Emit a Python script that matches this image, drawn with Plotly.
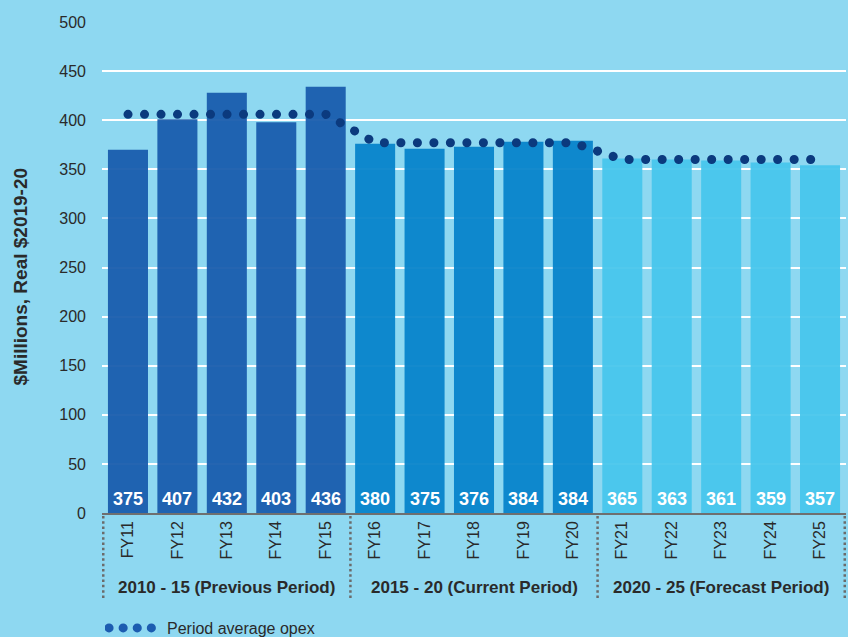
import plotly.graph_objects as go

# ---- data ----
years = ["FY11", "FY12", "FY13", "FY14", "FY15",
         "FY16", "FY17", "FY18", "FY19", "FY20",
         "FY21", "FY22", "FY23", "FY24", "FY25"]
bar_heights = [370, 401, 428, 398, 434,
               376, 371, 373, 378, 379,
               361, 360, 359, 357, 354]
bar_labels = [375, 407, 432, 403, 436,
              380, 375, 376, 384, 384,
              365, 363, 361, 359, 357]
period_avg = [406, 406, 406, 406, 406,
              377, 377, 377, 377, 377,
              360, 360, 360, 360, 360]
period_names = ["2010 - 15 (Previous Period)",
                "2015 - 20 (Current Period)",
                "2020 - 25 (Forecast Period)"]
period_sizes = [5, 5, 5]
period_colors = ["#195DAD", "#0784CA", "#48C6EC"]
y_ticks = [0, 50, 100, 150, 200, 250, 300, 350, 400, 450, 500]

BG = "#8ED8F1"
FONT = "Liberation Sans, Arial, sans-serif"
TXT = "#2a2a2a"

bar_colors = []
for c, n in zip(period_colors, period_sizes):
    bar_colors += [c] * n

fig = go.Figure()
fig.add_trace(go.Bar(
    x=years, y=bar_heights,
    marker=dict(color=bar_colors, opacity=0.95, line=dict(width=0)),
    showlegend=False, hoverinfo="x+y"))

fig.add_trace(go.Scatter(
    x=years, y=period_avg, mode="lines",
    line=dict(color="#0B3A7E", width=9, dash="0.1px,16.4px"),
    showlegend=False, name="Period average opex"))

# legend entry
fig.add_trace(go.Scatter(
    x=[None], y=[None], mode="lines", name="Period average opex",
    line=dict(color="#1C5CB0", width=9, dash="0.1px,14px"),
    showlegend=True))

annotations = []
for yr, lab in zip(years, bar_labels):
    annotations.append(dict(
        x=yr, y=0, xref="x", yref="y", text=str(lab), showarrow=False,
        yanchor="bottom", yshift=2,
        font=dict(family=FONT, size=18, color="white", weight="bold")))

# period labels and separators
start = 0
shapes = []
bounds = [-0.5]
for name, n in zip(period_names, period_sizes):
    center = start + (n - 1) / 2
    annotations.append(dict(
        x=center, y=-0.151, xref="x", yref="paper", text=name,
        showarrow=False, yanchor="middle",
        font=dict(family=FONT, size=17, color=TXT, weight="bold")))
    start += n
    bounds.append(start - 0.5)
for b in bounds:
    shapes.append(dict(
        type="line", xref="x", yref="paper", x0=b, x1=b, y0=-0.006, y1=-0.173,
        line=dict(color="#6b6b6b", width=2.5, dash="2.5px,2.8px")))

annotations.append(dict(
    x=-0.11, y=0.482, xref="paper", yref="paper", text="$Millions, Real $2019-20",
    textangle=-90, showarrow=False, xanchor="center", yanchor="middle",
    font=dict(family=FONT, size=19, color=TXT, weight="bold")))

fig.update_layout(
    width=848, height=637,
    margin=dict(l=102, r=2, t=22, b=124, autoexpand=False),
    paper_bgcolor=BG, plot_bgcolor=BG,
    font=dict(family=FONT, color=TXT, size=16),
    bargap=0.19,
    annotations=annotations,
    shapes=shapes,
    legend=dict(x=105 / 848, y=(637 - 628) / 637, xref="container", yref="container",
                xanchor="left", yanchor="middle", itemwidth=52,
                orientation="h", bgcolor="rgba(0,0,0,0)",
                font=dict(family=FONT, size=16, color=TXT)),
    xaxis=dict(tickangle=-90, showgrid=False, showline=True,
               linecolor="#6f6f6f", linewidth=1.5, ticks="",
               tickfont=dict(family=FONT, size=16, color=TXT)),
    yaxis=dict(range=[0, 500], tickvals=y_ticks, showgrid=True,
               gridcolor="white", gridwidth=1.5, zeroline=False,
               ticklabelstandoff=15,
               tickfont=dict(family=FONT, size=16, color=TXT)),
)

post = """
document.body.style.margin = '0';
function fixLines(){
  document.querySelectorAll('.scatterlayer .js-line, .legend .js-line').forEach(function(p){
    p.style.strokeLinecap = 'round';
  });
  document.querySelectorAll('.legend .legendlines path').forEach(function(p){
    p.setAttribute('d', 'M4,0h46');
    p.style.strokeLinecap = 'round';
  });
}
fixLines();
setTimeout(fixLines, 0);
setTimeout(fixLines, 200);
"""
fig.write_html("out.html", post_script=post, config={"displayModeBar": False})
